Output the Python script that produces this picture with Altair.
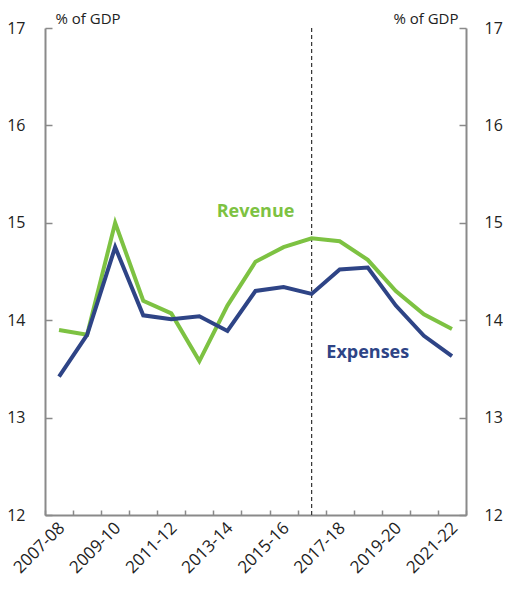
import altair as alt
import pandas as pd

years = ["2007-08", "2008-09", "2009-10", "2010-11", "2011-12", "2012-13", "2013-14",
         "2014-15", "2015-16", "2016-17", "2017-18", "2018-19", "2019-20", "2020-21", "2021-22"]
revenue = [13.90, 13.85, 15.00, 14.20, 14.07, 13.58, 14.15, 14.60, 14.75, 14.84, 14.81, 14.62, 14.30, 14.06, 13.91]
expenses = [13.42, 13.85, 14.75, 14.05, 14.01, 14.04, 13.89, 14.30, 14.34, 14.27, 14.52, 14.54, 14.15, 13.84, 13.63]
series_names = ["Revenue", "Expenses"]
series_colors = ["#7dc242", "#2e4486"]
label_years = ["2014-15", "2018-19"]
label_values = [15.11, 13.66]
divider_year = ["2016-17"]
y_ticks = [12, 13, 14, 15, 16, 17]
shown_x_labels = ["2007-08", "2009-10", "2011-12", "2013-14", "2015-16", "2017-18", "2019-20", "2021-22"]

rows = []
for y, r, e in zip(years, revenue, expenses):
    rows.append({"year": y, "series": "Revenue", "value": r})
    rows.append({"year": y, "series": "Expenses", "value": e})
df = pd.DataFrame(rows)
lab_df = pd.DataFrame({"year": label_years, "value": label_values, "series": series_names})
div_df = pd.DataFrame({"year": divider_year})

FONT = "Open Sans"
AXC = "#8a8a8a"
TXT = "#222222"
W, H = 421, 487

xscale = alt.Scale(domain=years, paddingInner=0, paddingOuter=0)
yscale = alt.Scale(domain=[12, 17], nice=False, zero=False)
cscale = alt.Scale(domain=series_names, range=series_colors)

label_expr = "indexof(" + str(shown_x_labels).replace('"', "'") + ", datum.value) >= 0 ? datum.value : ''"

x_main_axis = alt.Axis(
    title=None, ticks=False, domainColor=AXC, domainWidth=2,
    labelAngle=315, labelAlign="right", labelBaseline="middle",
    labelExpr=label_expr, labelOverlap=False,
    labelFont=FONT, labelFontSize=17, labelColor=TXT, labelPadding=10, labelOffset=3,
    grid=False,
)
x_main = alt.X("year:N", scale=xscale, axis=x_main_axis, sort=years)

left_axis = alt.Axis(
    orient="left", values=y_ticks, grid=False, ticks=False,
    domainColor=AXC, domainWidth=2,
    labelFont=FONT, labelFontSize=16, labelColor=TXT, labelPadding=20,
    title="% of GDP", titleAngle=0, titleAlign="left", titleBaseline="alphabetic",
    titleX=10, titleY=-5, titleFont=FONT, titleFontSize=15, titleFontWeight="normal",
    titleColor=TXT,
)
y_main = alt.Y("value:Q", scale=yscale, axis=left_axis)

divider = alt.Chart(div_df).mark_rule(strokeDash=[4, 3], color="#333333", strokeWidth=1.2).encode(
    x=x_main,
)
lines = alt.Chart(df).mark_line(strokeWidth=4).encode(
    x=x_main, y=y_main,
    color=alt.Color("series:N", scale=cscale, legend=None),
    detail="series:N",
)
labels = alt.Chart(lab_df).mark_text(font=FONT, fontSize=18, fontWeight="bold").encode(
    x=x_main, y=y_main, text="series:N",
    color=alt.Color("series:N", scale=cscale, legend=None),
)
main = alt.layer(divider, lines, labels)

# right axis with labels and title
right_axis = alt.Axis(
    orient="right", values=y_ticks, grid=False, ticks=False,
    domainColor=AXC, domainWidth=2,
    labelFont=FONT, labelFontSize=16, labelColor=TXT, labelPadding=18,
    title="% of GDP", titleAngle=0, titleAlign="right", titleBaseline="alphabetic",
    titleX=-8, titleY=-5, titleFont=FONT, titleFontSize=15, titleFontWeight="normal",
    titleColor=TXT,
)
right = alt.Chart(df).mark_line(opacity=0).encode(
    x=alt.X("year:N", scale=xscale, sort=years, axis=None),
    y=alt.Y("value:Q", scale=yscale, axis=right_axis),
    detail="series:N",
)

# inward tick marks: left edge (right-oriented axis moved to the left edge) + bottom edge
tick_left = alt.Axis(orient="right", offset=-W, values=y_ticks, labels=False, domain=False,
                     ticks=True, tickSize=7, tickColor=AXC, tickWidth=1.5, grid=False, title=None)
tick_bottom = alt.Axis(orient="top", offset=-H, labels=False, domain=False, ticks=True,
                       tickBand="extent", tickSize=5, tickColor=AXC, tickWidth=1.5, grid=False, title=None)
ticks1 = alt.Chart(df).mark_line(opacity=0).encode(
    x=alt.X("year:N", scale=xscale, sort=years, axis=tick_bottom),
    y=alt.Y("value:Q", scale=yscale, axis=tick_left),
    detail="series:N",
)
# inward tick marks: right edge
tick_right = alt.Axis(orient="left", offset=-W, values=y_ticks, labels=False, domain=False,
                      ticks=True, tickSize=7, tickColor=AXC, tickWidth=1.5, grid=False, title=None)
ticks2 = alt.Chart(df).mark_line(opacity=0).encode(
    x=alt.X("year:N", scale=xscale, sort=years, axis=None),
    y=alt.Y("value:Q", scale=yscale, axis=tick_right),
    detail="series:N",
)

chart = alt.layer(main, right, ticks1, ticks2).resolve_scale(
    y="independent", x="independent"
).properties(
    width=W, height=H,
    autosize=alt.AutoSizeParams(type="none"),
    padding={"left": 37, "top": 20, "right": 37, "bottom": 70},
).configure_view(stroke=None)

chart.save("out.html", embed_options={"renderer": "svg", "actions": False})
